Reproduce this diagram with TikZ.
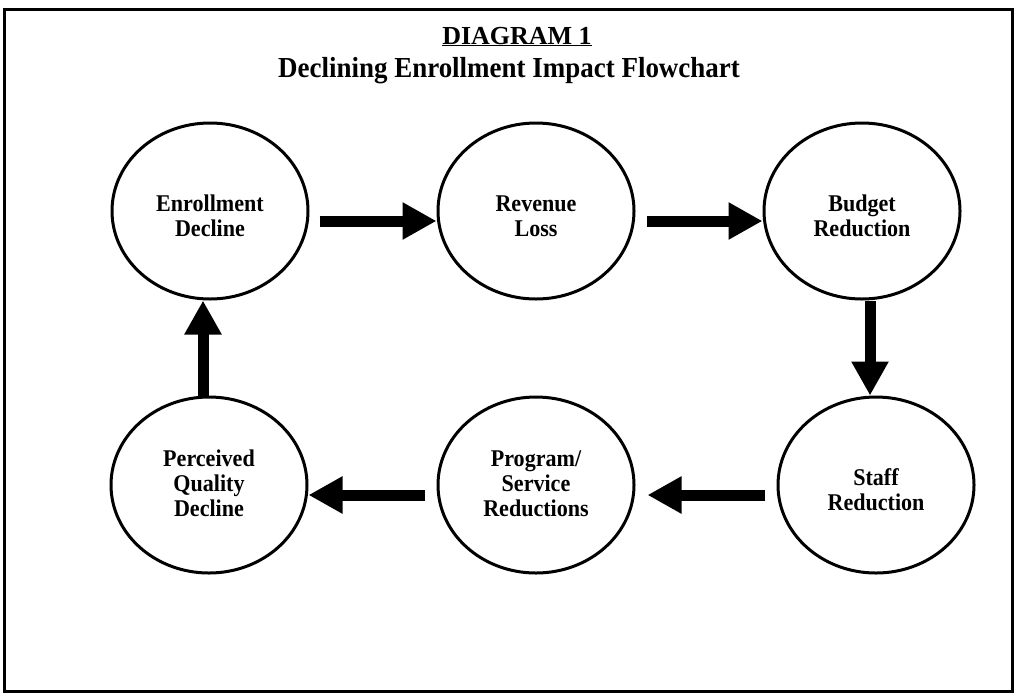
\documentclass[tikz,border=0pt]{standalone}
\usepackage{fontspec}
\setmainfont{Liberation Serif}
\newfontfamily\bubblefont[FakeStretch=0.92]{Liberation Serif}
\newfontfamily\headfont[FakeStretch=0.93]{Liberation Serif}
\usetikzlibrary{arrows.meta,shapes.geometric}
\begin{document}
\begin{tikzpicture}[x=1pt,y=-1pt,
  bubble/.style={ellipse, draw, line width=3pt, minimum width=196pt, minimum height=176pt,
    inner sep=0pt, align=center, font=\bubblefont\fontsize{24}{25}\selectfont\bfseries},
  bubbletext/.style={inner sep=0pt, align=center, font=\bubblefont\fontsize{24}{25}\selectfont\bfseries},
  flow/.style={line width=11pt, -{Triangle[length=34pt,width=35pt]}},
  titletext/.style={anchor=base, inner sep=0pt},
]
\useasboundingbox (0,0) rectangle (1016,694);
\fill[white] (0,0) rectangle (1016,694);
\draw[line width=3pt] (4,9) rectangle (1012,691);

\node[titletext, font=\fontsize{26}{30}\selectfont\bfseries] (t1) at (517,44) {\underline{DIAGRAM 1}};
\node[titletext, font=\headfont\fontsize{29}{32}\selectfont\bfseries] (t2) at (509,77) {Declining Enrollment Impact Flowchart};

\node[bubble] (E) at (210,211) {};
\node[bubble] (R) at (536,211) {};
\node[bubble] (B) at (862,211) {};
\node[bubble] (S) at (876,485) {};
\node[bubble] (PS) at (536,485) {};
\node[bubble] (P) at (209,485) {};

\node[bubbletext, yshift=-5pt] (Et) at (E) {Enrollment\\Decline};
\node[bubbletext, yshift=-5pt] (Rt) at (R) {Revenue\\Loss};
\node[bubbletext, yshift=-5pt] (Bt) at (B) {Budget\\Reduction};
\node[bubbletext, yshift=-5pt] (St) at (S) {Staff\\Reduction};
\node[bubbletext, yshift=1pt] (PSt) at (PS) {Program/\\Service\\Reductions};
\node[bubbletext, yshift=2pt] (Pt) at (P) {Perceived\\Quality\\Decline};

\draw[flow, shorten <=10pt] ([yshift=-10pt]E.east) -- ([yshift=-10pt]R.west);
\draw[flow, shorten <=11pt] ([yshift=-10pt]R.east) -- ([yshift=-10pt]B.west);
\draw[flow] ([xshift=8pt]B.south) -- ([xshift=-6pt]S.north);
\draw[flow, shorten <=12pt, shorten >=12pt] ([yshift=-10pt]S.west) -- ([yshift=-10pt]PS.east);
\draw[flow, shorten <=12pt] ([yshift=-10pt]PS.west) -- ([yshift=-10pt]P.east);
\draw[flow] ([xshift=-6pt]P.north) -- ([xshift=-7pt]E.south);
\end{tikzpicture}
\end{document}
